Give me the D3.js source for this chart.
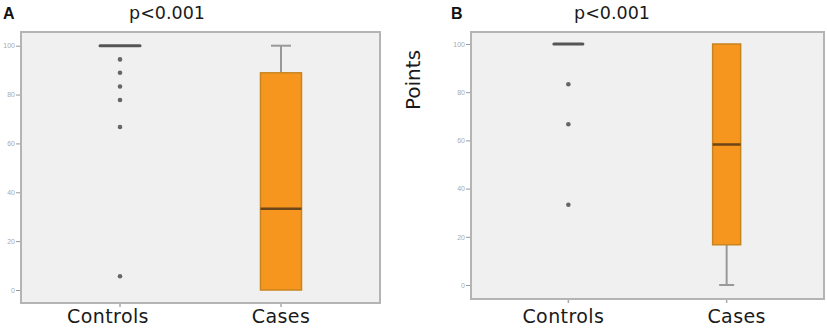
<!DOCTYPE html>
<html>
<head>
<meta charset="utf-8">
<script src="https://cdn.jsdelivr.net/npm/d3@7"></script>
<style>
  body { margin: 0; background: #fff; }
  svg { display: block; font-family: "DejaVu Sans", sans-serif; }
</style>
</head>
<body>
<svg id="chart" width="827" height="329"></svg>
<script>
let categories = ["Controls", "Cases"]
let yTicks = [0, 20, 40, 60, 80, 100]
let pLabel = "p<0.001"

// box stats: [min, q1, median, q3, max]
let boxA = [[100, 100, 100, 100, 100], [0, 0, 33.3, 88.9, 100]]
let boxB = [[100, 100, 100, 100, 100], [0, 16.7, 58.3, 100, 100]]

let outliersA = [94.4, 88.9, 83.3, 77.8, 66.7, 5.6]
let outliersB = [83.3, 66.7, 33.3]

let svg = d3.select("#chart")

let panels = [
    {letter: "A", boxes: boxA, outliers: outliersA, x0: 21, x1: 380, y0: 32, y1: 303, yTop: 45.7, yBot: 290, boxW: 41, capW: 20, lineW: 40, letterX: 3, titleX: 167, labelDx: [-12, 0]},
    {letter: "B", boxes: boxB, outliers: outliersB, x0: 471, x1: 824, y0: 32, y1: 299, yTop: 44, yBot: 285, boxW: 28, capW: 15, lineW: 29, letterX: 451, titleX: 612, labelDx: [-5, 10]}
]

function draw_panel(p) {
    let g = svg.append("g")

    let x = d3.scalePoint()
        .domain(categories)
        .range([p.x0, p.x1])
        .padding(0.615)

    let y = d3.scaleLinear()
        .domain([0, 100])
        .range([p.yBot, p.yTop])

    g.append("rect")
        .attr("x", p.x0)
        .attr("y", p.y0)
        .attr("width", p.x1 - p.x0)
        .attr("height", p.y1 - p.y0)
        .attr("fill", "#f0f0f0")
        .attr("stroke", "#b4b4b4")
        .attr("stroke-width", 2)

    // y axis
    let yAxis = g.append("g")
        .attr("transform", `translate(${p.x0 - 1},0)`)
        .call(d3.axisLeft(y).tickValues(yTicks).tickSize(4).tickPadding(1))
    yAxis.select(".domain").remove()
    yAxis.selectAll("line").attr("stroke", "#999")
    yAxis.selectAll("text").attr("fill", "#aaa").attr("font-size", 7)

    // x ticks under the frame
    g.selectAll(".xtick")
        .data(categories)
        .enter().append("line")
        .attr("x1", d => x(d))
        .attr("x2", d => x(d))
        .attr("y1", p.y1 + 1)
        .attr("y2", p.y1 + 4)
        .attr("stroke", "#aaa")
        .attr("stroke-width", 1.5)

    g.selectAll(".xlabel")
        .data(categories)
        .enter().append("text")
        .attr("x", (d, i) => x(d) + p.labelDx[i])
        .attr("y", 323)
        .attr("text-anchor", "middle")
        .attr("font-size", 19)
        .attr("letter-spacing", 0.4)
        .attr("fill", "#1a1a1a")
        .text(d => d)

    // boxes
    categories.forEach((c, i) => {
        let b = p.boxes[i]
        let cx = x(c)
        if (b[0] === b[4]) {
            g.append("line")
                .attr("x1", cx - p.lineW / 2)
                .attr("x2", cx + p.lineW / 2)
                .attr("y1", y(b[2]))
                .attr("y2", y(b[2]))
                .attr("stroke", "#555")
                .attr("stroke-width", 3)
                .attr("stroke-linecap", "round")
            return
        }
        // whiskers
        let whisk = [[b[0], b[1]], [b[3], b[4]]].filter(w => w[0] !== w[1])
        whisk.forEach(w => {
            g.append("line")
                .attr("x1", cx).attr("x2", cx)
                .attr("y1", y(w[0])).attr("y2", y(w[1]))
                .attr("stroke", "#999").attr("stroke-width", 2)
        })
        ;[b[0], b[4]].forEach(v => {
            if (v === b[1] || v === b[3]) return
            g.append("line")
                .attr("x1", cx - p.capW / 2).attr("x2", cx + p.capW / 2)
                .attr("y1", y(v)).attr("y2", y(v))
                .attr("stroke", "#999").attr("stroke-width", 2)
        })
        g.append("rect")
            .attr("x", cx - p.boxW / 2)
            .attr("y", y(b[3]))
            .attr("width", p.boxW)
            .attr("height", y(b[1]) - y(b[3]))
            .attr("fill", "#f7961e")
            .attr("stroke", "#c8841e")
            .attr("stroke-width", 1.5)
        g.append("line")
            .attr("x1", cx - p.boxW / 2).attr("x2", cx + p.boxW / 2)
            .attr("y1", y(b[2])).attr("y2", y(b[2]))
            .attr("stroke", "#6e4516").attr("stroke-width", 2.5)
    })

    g.selectAll(".outlier")
        .data(p.outliers)
        .enter().append("circle")
        .attr("cx", x(categories[0]))
        .attr("cy", d => y(d))
        .attr("r", 2.3)
        .attr("fill", "#666")

    g.append("text")
        .attr("x", p.titleX)
        .attr("y", 19)
        .attr("text-anchor", "middle")
        .attr("font-size", 17.5)
        .attr("fill", "#1a1a1a")
        .text(pLabel)

    g.append("text")
        .attr("x", p.letterX)
        .attr("y", 19)
        .attr("font-size", 16)
        .attr("font-weight", "bold")
        .attr("font-family", "Liberation Sans, Arial, sans-serif")
        .attr("fill", "#111")
        .text(p.letter)
}

panels.forEach(draw_panel)

svg.append("text")
    .attr("transform", "translate(420,80) rotate(-90)")
    .attr("text-anchor", "middle")
    .attr("font-size", 20)
    .attr("fill", "#1a1a1a")
    .text("Points")
</script>
</body>
</html>
